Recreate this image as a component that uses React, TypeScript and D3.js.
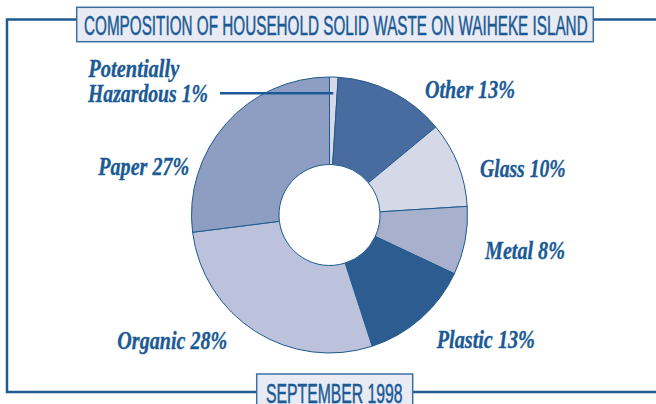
import React from 'react';
import * as d3 from 'd3';

const categories = ['Potentially Hazardous', 'Other', 'Glass', 'Metal', 'Plastic', 'Organic', 'Paper'];
const values = [1, 13, 10, 8, 13, 28, 27];
const labelTexts = [['Potentially', 'Hazardous 1%'], ['Other 13%'], ['Glass 10%'], ['Metal 8%'], ['Plastic 13%'], ['Organic 28%'], ['Paper 27%']];
const title = 'COMPOSITION OF HOUSEHOLD SOLID WASTE ON WAIHEKE ISLAND';
const footer = 'SEPTEMBER 1998';

// layout (not data)
const colors = ['#d5d9e8', '#486c9f', '#d4d8e7', '#a7b0cd', '#2d5c90', '#bcc2dc', '#8e9ec2'];
const labelLayout = [
  [{ x: 88.3, y: 77, w: 91 }, { x: 88, y: 101.7, w: 120 }],
  [{ x: 425, y: 98.3, w: 90 }],
  [{ x: 480, y: 177.3, w: 85.7 }],
  [{ x: 485, y: 259.3, w: 80 }],
  [{ x: 436.7, y: 348.3, w: 98.3 }],
  [{ x: 117.3, y: 349.3, w: 110 }],
  [{ x: 98.3, y: 175, w: 91 }],
];

const W = 656;
const H = 404;
const cx = 329.5;
const cy = 215;
const rOuter = 138;
const rInner = 50.5;
const ink = '#1b5a95';
const frame = '#1f5b92';

let ctx: CanvasRenderingContext2D | null = null;
function measure(text: string, font: string): number {
  if (!ctx && typeof document !== 'undefined') {
    ctx = document.createElement('canvas').getContext('2d');
  }
  if (!ctx) return text.length * 10;
  ctx.font = font;
  return ctx.measureText(text).width;
}

function FitText(props: { text: string; x: number; y: number; w: number; size: number; family: string; italic?: boolean; bold?: boolean; sw: number }) {
  const { text, x, y, w, size, family, italic, bold, sw } = props;
  const font = `${italic ? 'italic ' : ''}${bold ? 'bold ' : ''}${size}px ${family}`;
  const natural = measure(text, font) || 1;
  const sx = w / natural;
  return (
    <text
      transform={`translate(${x},${y}) scale(${sx},1)`}
      fontFamily={family}
      fontStyle={italic ? 'italic' : 'normal'}
      fontWeight={bold ? 'bold' : 'normal'}
      fontSize={size}
      fill={ink}
      stroke={ink}
      strokeWidth={sw}
    >
      {text}
    </text>
  );
}

export default function App() {
  const pie = d3.pie<number>().sort(null).value((d) => d).startAngle(0).endAngle(2 * Math.PI);
  const arcs = pie(values);
  const arc = d3.arc<d3.PieArcDatum<number>>().innerRadius(rInner).outerRadius(rOuter);
  const labelFont = "'Liberation Serif', 'Times New Roman', serif";
  const sansFont = "'Liberation Sans', Arial, sans-serif";

  const haz = arcs[0];
  const hazMid = (haz.startAngle + haz.endAngle) / 2;
  const leaderY = 93.3;
  const leaderX2 = cx + Math.tan(hazMid) * (cy - leaderY);

  return (
    <svg width={W} height={H} style={{ position: 'absolute', left: 0, top: 0, display: 'block' }}>
      <rect x={0} y={0} width={W} height={H} fill="#ffffff" />
      <path d={`M${W},19.5 H7 V392 H${W}`} fill="none" stroke={frame} strokeWidth={2.5} />
      <g transform={`translate(${cx},${cy})`}>
        {arcs.map((a, i) => (
          <path key={categories[i]} d={arc(a) as string} fill={colors[i]} stroke="#1f5a8e" strokeWidth={1} />
        ))}
      </g>
      <line x1={220} y1={leaderY} x2={leaderX2} y2={leaderY} stroke={ink} strokeWidth={2.5} />
      {labelTexts.map((lines, i) =>
        lines.map((t, j) => {
          const p = labelLayout[i][j];
          return (
            <FitText key={`${i}-${j}`} text={t} x={p.x} y={p.y} w={p.w} size={25} family={labelFont} italic bold sw={0.35} />
          );
        })
      )}
      <rect x={76.7} y={7.3} width={516.6} height={34.4} fill="#e8ebf3" stroke="#3b70a2" strokeWidth={1.5} />
      <FitText text={title} x={84} y={35} w={504} size={27} family={sansFont} sw={0.5} />
      <rect x={256.7} y={374} width={156} height={34} fill="#e8ebf3" stroke="#3b70a2" strokeWidth={1.5} />
      <FitText text={footer} x={266} y={402.5} w={136.7} size={27} family={sansFont} sw={0.5} />
    </svg>
  );
}
